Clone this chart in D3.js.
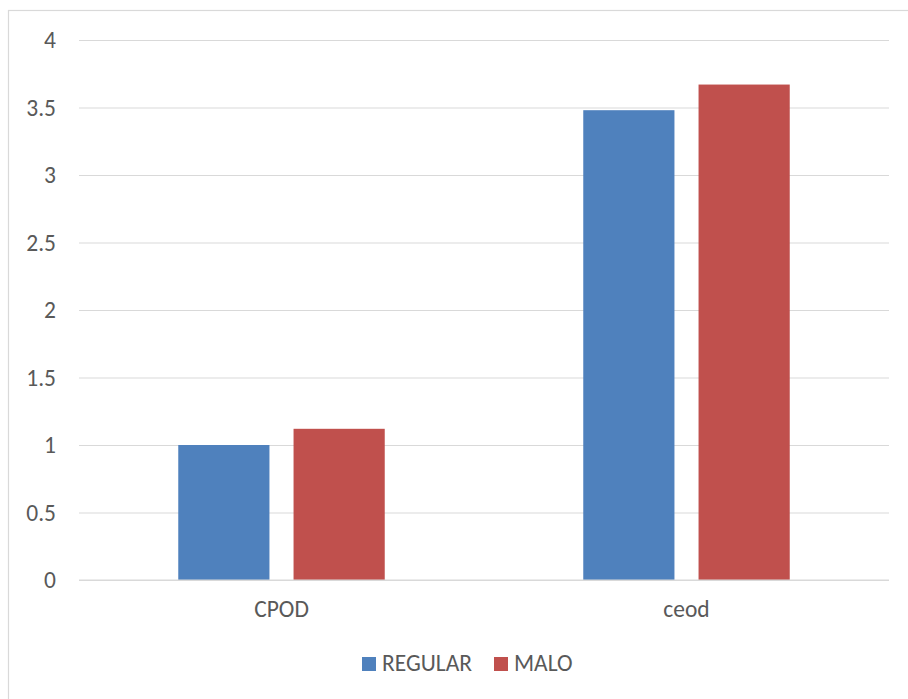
<!DOCTYPE html>
<html>
<head>
<meta charset="utf-8">
<script src="https://cdn.jsdelivr.net/npm/d3@7"></script>
<style>
  html, body { margin: 0; padding: 0; background: #fff; }
  svg { display: block; }
</style>
</head>
<body>
<svg id="chart" width="908" height="699"></svg>
<script>
// Grouped column chart: two categories, two series
const categories = ["CPOD", "ceod"];
const seriesNames = ["REGULAR", "MALO"];
const regularValues = [1.0, 3.48];
const maloValues = [1.12, 3.67];
const yTicks = [0, 0.5, 1, 1.5, 2, 2.5, 3, 3.5, 4];
const seriesColors = ["#4f81bd", "#c0504d"];

const seriesValues = [regularValues, maloValues];
const font = "Carlito, Calibri, 'Open Sans', 'Noto Sans', sans-serif";
const textColor = "#595959";
const fontSize = "23.5px";

const svg = d3.select("#chart");

// outer chart frame
svg.append("rect")
  .attr("x", 8.5).attr("y", 10.5)
  .attr("width", 1000).attr("height", 1000)
  .attr("fill", "#fff")
  .attr("stroke", "#d9d9d9").attr("stroke-width", 1.2);

const plot = { left: 79, right: 889, top: 40, bottom: 580 };

const x = d3.scaleBand()
  .domain(categories)
  .range([plot.left, plot.right]);

const xInner = d3.scaleBand()
  .domain(seriesNames)
  .range([0, x.bandwidth()])
  .paddingInner(0.209)
  .paddingOuter(0.861);

const y = d3.scaleLinear()
  .domain([0, 4])
  .range([plot.bottom, plot.top]);

// gridlines and y tick labels
const yAxis = d3.axisLeft(y)
  .tickValues(yTicks)
  .tickSize(-(plot.right - plot.left))
  .tickPadding(23)
  .tickFormat(d3.format("~g"));

const gy = svg.append("g")
  .attr("transform", `translate(${plot.left},0)`)
  .call(yAxis);
gy.select(".domain").remove();
gy.selectAll(".tick line").attr("stroke", "#d9d9d9").attr("stroke-width", 1.2);
gy.selectAll(".tick text")
  .attr("fill", textColor)
  .style("font-family", font)
  .style("font-size", fontSize);

// bars
const groups = svg.append("g")
  .selectAll("g")
  .data(categories)
  .join("g")
  .attr("transform", d => `translate(${x(d)},0)`);

groups.selectAll("rect")
  .data((c, i) => seriesNames.map((s, j) => ({ s, j, v: seriesValues[j][i] })))
  .join("rect")
  .attr("x", d => xInner(d.s))
  .attr("width", xInner.bandwidth())
  .attr("y", d => y(d.v))
  .attr("height", d => y(0) - y(d.v))
  .attr("fill", d => seriesColors[d.j]);

// baseline over bars
svg.append("line")
  .attr("x1", plot.left).attr("x2", plot.right)
  .attr("y1", y(0)).attr("y2", y(0))
  .attr("stroke", "#d9d9d9").attr("stroke-width", 1.2);

// category labels
const xAxis = d3.axisBottom(x).tickSize(0).tickPadding(20);
const gx = svg.append("g")
  .attr("transform", `translate(0,${plot.bottom})`)
  .call(xAxis);
gx.select(".domain").remove();
gx.selectAll(".tick text")
  .attr("fill", textColor)
  .style("font-family", font)
  .style("font-size", fontSize);

// legend
const legendItems = [
  { name: seriesNames[0], color: seriesColors[0], x: 362 },
  { name: seriesNames[1], color: seriesColors[1], x: 494 }
];
const legend = svg.append("g");
legendItems.forEach(it => {
  legend.append("rect")
    .attr("x", it.x).attr("y", 657)
    .attr("width", 14).attr("height", 14)
    .attr("fill", it.color);
  legend.append("text")
    .attr("x", it.x + 20).attr("y", 671)
    .attr("fill", textColor)
    .style("font-family", font)
    .style("font-size", fontSize)
    .text(it.name);
});
</script>
</body>
</html>
